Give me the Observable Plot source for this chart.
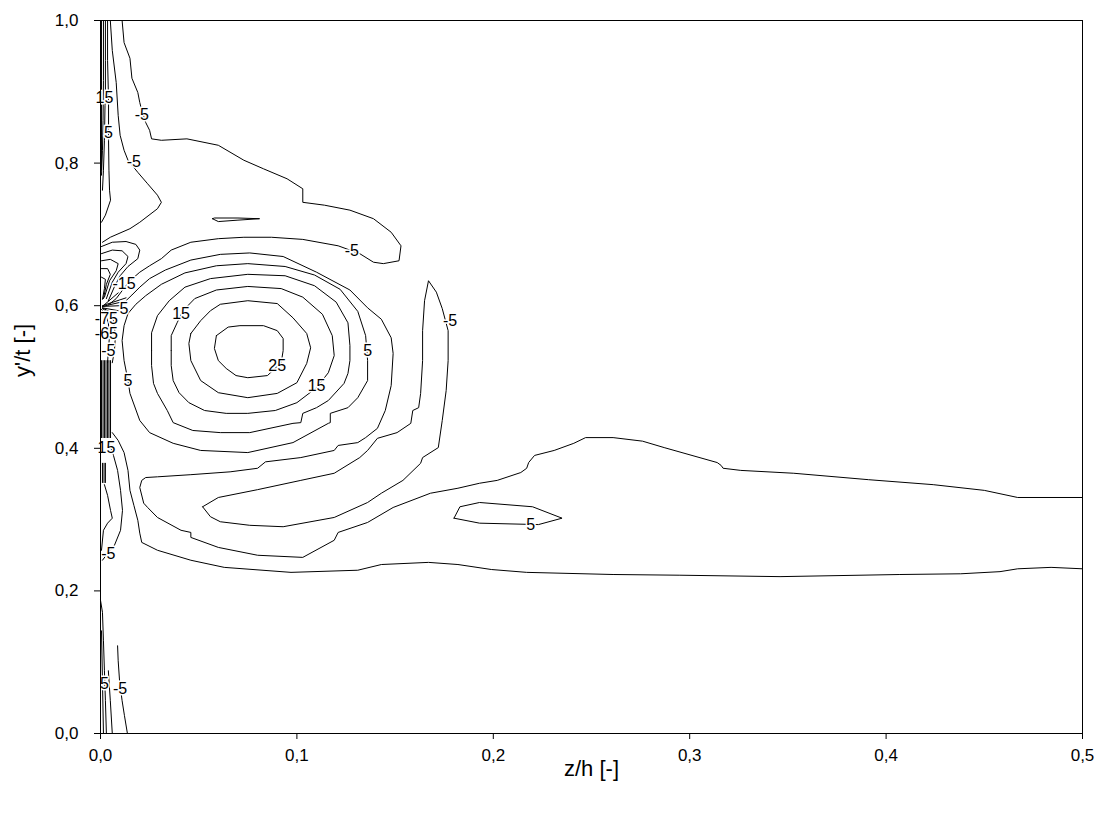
<!DOCTYPE html>
<html><head><meta charset="utf-8">
<script src="https://cdn.jsdelivr.net/npm/d3@7"></script>
<script src="https://cdn.jsdelivr.net/npm/@observablehq/plot@0.6"></script>
<style>body{margin:0;background:#fff;}</style>
</head><body><div id="chart"></div>
<script>
const zTicks = [0, 0.1, 0.2, 0.3, 0.4, 0.5];
const yTicks = [0, 0.2, 0.4, 0.6, 0.8, 1.0];

// contour paths, [z/h, y'/t]
const ring25 = [[.059,.558],[.065,.570],[.071,.572],[.083,.572],[.090,.565],[.093,.554],[.093,.537],[.092,.520],[.085,.502],[.075,.499],[.069,.502],[.064,.512],[.060,.523],[.058,.540],[.059,.558]];
const ring20 = [[.046,.561],[.051,.579],[.056,.593],[.061,.602],[.075,.607],[.090,.603],[.098,.583],[.105,.561],[.107,.541],[.105,.519],[.100,.492],[.090,.477],[.075,.471],[.060,.478],[.051,.495],[.046,.523],[.045,.547],[.046,.561]];
const ring15 = [[.036,.537],[.036,.558],[.039,.576],[.042,.593],[.048,.610],[.059,.622],[.075,.627],[.092,.624],[.103,.612],[.113,.588],[.118,.558],[.119,.530],[.116,.506],[.110,.485],[.100,.464],[.089,.453],[.075,.449],[.064,.449],[.053,.453],[.045,.464],[.040,.478],[.037,.495],[.036,.516],[.036,.537]];
const ring10 = [[.026,.537],[.026,.562],[.029,.586],[.035,.607],[.043,.626],[.056,.638],[.075,.644],[.094,.642],[.109,.628],[.120,.605],[.126,.576],[.127,.544],[.127,.523],[.126,.505],[.124,.491],[.116,.467],[.110,.457],[.103,.449],[.102,.436],[.098,.435],[.076,.422],[.061,.422],[.047,.425],[.037,.436],[.034,.453],[.029,.477],[.027,.491],[.026,.516],[.026,.537]];
const ring5 = [[.014,.495],[.015,.477],[.020,.439],[.025,.422],[.037,.407],[.051,.397],[.075,.394],[.098,.408],[.116,.435],[.117,.436],[.117,.449],[.126,.457],[.131,.471],[.136,.495],[.136,.523],[.135,.558],[.131,.592],[.122,.623],[.109,.643],[.094,.655],[.075,.659],[.059,.656],[.043,.646],[.031,.630],[.023,.614],[.018,.602],[.014,.589],[.012,.572],[.011,.551],[.012,.523],[.014,.495]];
const ring0 = [[.5,.331],[.467,.331],[.450,.341],[.424,.349],[.391,.356],[.353,.365],[.326,.369],[.317,.372],[.316,.376],[.314,.380],[.287,.401],[.276,.410],[.261,.415],[.247,.415],[.241,.407],[.231,.397],[.221,.390],[.218,.380],[.217,.372],[.214,.366],[.202,.355],[.193,.351],[.182,.344],[.168,.337],[.149,.317],[.136,.296],[.121,.282],[.119,.271],[.103,.247],[.080,.250],[.060,.261],[.046,.275],[.046,.282],[.041,.285],[.029,.303],[.024,.317],[.022,.323],[.020,.345],[.021,.355],[.023,.359],[.029,.360],[.046,.363],[.066,.367],[.080,.372],[.084,.381],[.102,.387],[.119,.397],[.121,.404],[.131,.408],[.135,.415],[.141,.428],[.145,.453],[.148,.488],[.149,.533],[.148,.555],[.143,.581],[.136,.597],[.127,.622],[.110,.647],[.093,.669],[.076,.674],[.061,.672],[.046,.664],[.033,.650],[.025,.638],[.020,.626],[.016,.615],[.013,.607]];
const spikeLoop = [[.052,.318],[.060,.331],[.080,.342],[.102,.355],[.119,.365],[.132,.387],[.136,.397],[.141,.414],[.151,.422],[.158,.435],[.159,.453],[.162,.457],[.163,.477],[.164,.523],[.164,.565],[.165,.607],[.167,.635],[.171,.619],[.174,.596],[.177,.565],[.177,.523],[.176,.481],[.174,.439],[.172,.401],[.164,.387],[.163,.379],[.154,.355],[.143,.337],[.136,.324],[.119,.303],[.093,.290],[.076,.292],[.061,.297],[.056,.304],[.052,.318]];
const upperLobe = [[.011,1],[.012,.969],[.015,.947],[.016,.919],[.019,.899],[.020,.885],[.021,.874],[.023,.857],[.025,.846],[.026,.834],[.031,.832],[.044,.834],[.060,.825],[.073,.804],[.083,.792],[.095,.778],[.103,.764],[.103,.745],[.114,.741],[.127,.734],[.139,.722],[.148,.703],[.153,.684],[.152,.663],[.144,.659],[.139,.661],[.132,.673],[.121,.684],[.103,.693],[.087,.696],[.073,.696],[.060,.694],[.046,.689],[.036,.678],[.031,.666],[.025,.656],[.020,.647],[.015,.635],[.011,.621],[.008,.610],[.004,.601]];
const lineB = [[.5,.231],[.484,.233],[.467,.231],[.458,.227],[.438,.224],[.407,.223],[.346,.220],[.295,.222],[.261,.223],[.217,.226],[.199,.230],[.182,.237],[.167,.240],[.143,.237],[.131,.229],[.097,.226],[.063,.233],[.046,.243],[.029,.257],[.021,.268],[.020,.281],[.019,.299],[.017,.320],[.015,.341],[.014,.369],[.012,.394],[.009,.411],[.006,.422]];
const wallB = [[.005,1],[.006,.958],[.008,.913],[.009,.867],[.010,.839],[.012,.818],[.014,.804],[.019,.787],[.024,.771],[.029,.755],[.031,.745],[.029,.736],[.020,.717],[.015,.708],[.005,.696],[.001,.689]];
const wall1 = [[.0005,1],[.0005,.79]];
const wall2 = [[.0015,1],[.0015,.916],[.0013,.860],[.001,.818],[.0005,.783]];
const wall3 = [[.0025,1],[.0025,.944],[.0025,.902],[.0023,.881],[.002,.832],[.0015,.790],[.001,.762]];
const wall4 = [[.0036,1],[.0036,.944],[.0041,.888],[.0041,.832],[.0043,.790],[.0046,.762],[.0051,.748],[.0025,.727],[.0005,.717]];
const core1 = [[.0005,.683],[.006,.689],[.013,.690],[.018,.686],[.020,.678],[.019,.666],[.014,.655],[.010,.642],[.007,.626],[.004,.607]];
const core2 = [[.0005,.673],[.006,.678],[.011,.677],[.014,.669],[.013,.659],[.009,.647],[.006,.633],[.003,.610]];
const core3 = [[.0005,.663],[.005,.665],[.009,.659],[.008,.649],[.0046,.635],[.002,.612]];
const core4 = [[.0005,.652],[.0036,.652],[.005,.644],[.003,.630],[.0015,.610]];
const core5 = [[.0005,.640],[.0025,.637],[.002,.624],[.001,.609]];
const fan1 = [[.001,.600],[.013,.611]];
const fan2 = [[.001,.599],[.012,.606]];
const fan3 = [[.001,.599],[.010,.600]];
const fan4 = [[.001,.597],[.009,.593]];
const fan5 = [[.001,.597],[.007,.588]];
const fan6 = [[.001,.599],[.009,.618]];
const below1 = [[.001,.596],[.004,.590],[.0066,.579],[.0076,.558],[.0071,.537],[.006,.520]];
const below2 = [[.0005,.595],[.0025,.588],[.004,.576],[.0046,.558],[.004,.537],[.0036,.520]];
const bar1 = [[.0005,.523],[.0005,.415]];
const bar2 = [[.0013,.523],[.0013,.415]];
const bar3 = [[.002,.523],[.002,.415]];
const bar4 = [[.0028,.523],[.0028,.415]];
const bar5 = [[.0036,.523],[.0036,.415]];
const bar6 = [[.0043,.523],[.0043,.415]];
const bar7 = [[.0051,.523],[.0051,.415]];
const bar8 = [[.001,.379],[.001,.352]];
const bar9 = [[.0018,.379],[.0018,.352]];
const bar10 = [[.0025,.379],[.0025,.352]];
const lowWall1 = [[.002,.349],[.0036,.334],[.0051,.313],[.006,.302],[.0036,.295],[.0015,.285],[.0005,.257]];
const lowWall2 = [[.004,.411],[.0066,.390],[.0087,.369],[.0102,.341],[.0112,.313],[.0102,.285],[.0071,.264],[.004,.254],[.001,.243]];
const foot1 = [[0,.187],[.001,.170],[.0015,.130],[.002,.088],[.0025,.046],[.003,0]];
const foot2 = [[.0005,.144],[.001,.074],[.0015,0]];
const foot3 = [[.004,.088],[.005,.046],[.006,0]];
const foot4 = [[.0087,.123],[.009,.102],[.0097,.074],[.011,.046],[.0122,.025],[.0137,0]];
const smallLoop = [[.180,.302],[.183,.318],[.193,.324],[.220,.318],[.235,.302],[.223,.293],[.193,.295],[.180,.302]];
const sliver = [[.057,.722],[.060,.718],[.070,.720],[.081,.722],[.070,.723],[.058,.723],[.057,.722]];

// contour labels [z/h, y'/t, text]
const contourLabels = [
  [.021,.867,"-5"],[.017,.802,"-5"],[.002,.892,"15"],[.004,.843,"5"],
  [.128,.677,"-5"],[.012,.631,"-15"],[.012,.595,"5"],[.003,.582,"-75"],
  [.003,.561,"-65"],[.004,.537,"-5"],[.041,.589,"15"],[.090,.516,"25"],
  [.110,.487,"15"],[.136,.537,"5"],[.014,.495,"5"],[.178,.579,"-5"],
  [.003,.401,"15"],[.004,.252,"-5"],[.002,.070,"5"],[.010,.063,"-5"],
  [.219,.292,"5"]
];

const paths = {ring25, ring20, ring15, ring10, ring5, ring0, spikeLoop, upperLobe, lineB, wallB,
  wall1, wall2, wall3, wall4, core1, core2, core3, core4, core5, fan1, fan2, fan3, fan4, fan5, fan6,
  below1, below2, bar1, bar2, bar3, bar4, bar5, bar6, bar7, bar8, bar9, bar10, lowWall1, lowWall2,
  foot1, foot2, foot3, foot4, smallLoop, sliver};
const rows = Object.entries(paths).flatMap(([id, pts]) => pts.map(([z, y]) => ({id, z, y})));
const fmt = d => d.toFixed(1).replace(".", ",");

const chart = Plot.plot({
  width: 1102, height: 818,
  marginLeft: 100, marginRight: 20, marginTop: 20, marginBottom: 85,
  style: {fontFamily: "'Liberation Sans', Arial, sans-serif", fontSize: "17px", background: "#fff", color: "#000"},
  x: {domain: [0, 0.5]},
  y: {domain: [0, 1]},
  marks: [
    Plot.line(rows, {x: "z", y: "y", z: "id", stroke: "#000", strokeWidth: 1}),
    Plot.text(contourLabels, {x: d => d[0], y: d => d[1], text: d => d[2], fontSize: 16, fill: "#000", stroke: "#fff", strokeWidth: 3, paintOrder: "stroke"}),
    Plot.frame({stroke: "#000"}),
    Plot.axisX({ticks: zTicks, tickFormat: fmt, tickSize: 6, tickPadding: 9, label: null, fontSize: 17}),
    Plot.axisY({ticks: yTicks, tickFormat: fmt, tickSize: 6, tickPadding: 16, label: null, fontSize: 17}),
    Plot.text(["z/h [-]"], {frameAnchor: "bottom", dy: 42, fontSize: 22}),
    Plot.text(["y'/t [-]"], {frameAnchor: "left", dx: -78, rotate: -90, fontSize: 22})
  ]
});
document.getElementById("chart").appendChild(chart);
</script>
</body></html>
